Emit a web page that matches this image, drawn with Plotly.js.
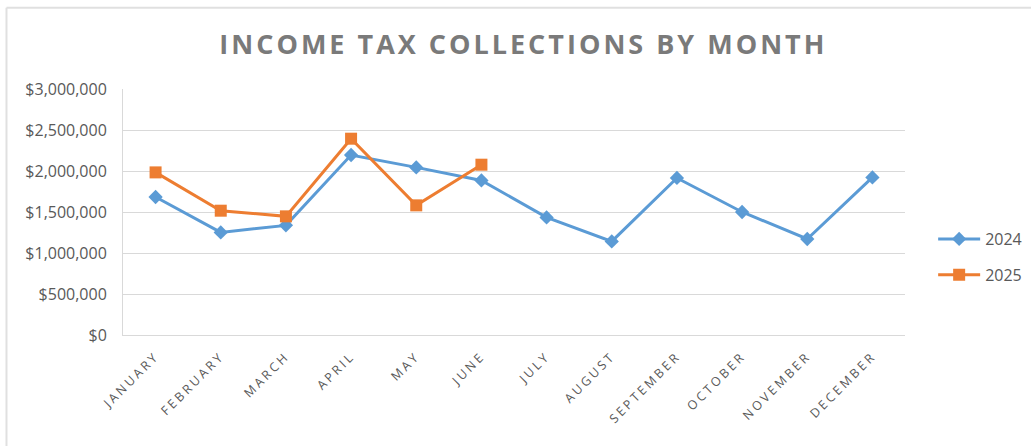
<!DOCTYPE html>
<html>
<head>
<meta charset="utf-8">
<script src="https://cdn.plot.ly/plotly-3.0.1.min.js"></script>
<style>
html,body{margin:0;padding:0;background:#fff;}
#chart{width:1031px;height:446px;}
#chart .gtitle{letter-spacing:3px;}
#chart .xtick text{letter-spacing:2.8px;}
</style>
</head>
<body>
<div id="chart"></div>
<script>
const months = ["JANUARY","FEBRUARY","MARCH","APRIL","MAY","JUNE","JULY","AUGUST","SEPTEMBER","OCTOBER","NOVEMBER","DECEMBER"];
const values2024 = [1683000,1251000,1337000,2195000,2044000,1885000,1434000,1141000,1915000,1500000,1171000,1922000];
const months2025 = ["JANUARY","FEBRUARY","MARCH","APRIL","MAY","JUNE"];
const values2025 = [1983000,1516000,1447000,2394000,1581000,2077000];
const yTicks = [0,500000,1000000,1500000,2000000,2500000,3000000];
const yTickLabels = ["$0","$500,000","$1,000,000","$1,500,000","$2,000,000","$2,500,000","$3,000,000"];

const font = "Open Sans, Liberation Sans, sans-serif";
const traces = [
  {x: months, y: values2024, name: "2024", type: "scatter", mode: "lines+markers", legendgroup: "a",
   line: {color: "#5b9bd5", width: 3}, marker: {symbol: "diamond", size: 11, color: "#5b9bd5"}},
  {x: months2025, y: values2025, name: "2025", type: "scatter", mode: "lines+markers", legendgroup: "b",
   line: {color: "#ed7d31", width: 3}, marker: {symbol: "square", size: 12, color: "#ed7d31"}}
];
const layout = {
  width: 1031, height: 446,
  margin: {l: 123, r: 126, t: 89, b: 111, autoexpand: false},
  paper_bgcolor: "#fff", plot_bgcolor: "#fff",
  title: {text: "<b>INCOME TAX COLLECTIONS BY MONTH</b>", x: 0.512, xref: "paper", y: 0.9, yref: "container",
          xanchor: "center", yanchor: "middle",
          font: {family: font, size: 27, color: "#7a7a7a"}},
  xaxis: {type: "category", categoryorder: "array", categoryarray: months, range: [-0.5, 11.5],
          tickangle: -45, tickfont: {family: font, size: 12.5, color: "#595959"},
          showgrid: false, showline: true, linecolor: "#d9d9d9", linewidth: 1, zeroline: false,
          ticks: "", ticklabelstandoff: 8, fixedrange: true},
  yaxis: {range: [0, 3000000], tickvals: yTicks, ticktext: yTickLabels,
          tickfont: {family: font, size: 16, color: "#595959"},
          showgrid: true, gridcolor: "#d9d9d9", gridwidth: 1, zeroline: false,
          showline: true, linecolor: "#d9d9d9", linewidth: 1, ticks: "", ticklabelstandoff: 12},
  legend: {x: 1.036, xref: "paper", xanchor: "left", y: 0.317, yanchor: "middle", bgcolor: "rgba(0,0,0,0)",
           font: {family: font, size: 16, color: "#595959"}, itemwidth: 42, tracegroupgap: 12},
  showlegend: true,
  shapes: [
    {type: "line", xref: "paper", yref: "paper", x0: -0.149, x1: 1.2, y0: 1.33, y1: 1.33, line: {color: "#e0e0e0", width: 2}},
    {type: "line", xref: "paper", yref: "paper", x0: -0.149, x1: -0.149, y0: 1.33, y1: -0.46, line: {color: "#e0e0e0", width: 2}}
  ]
};
Plotly.newPlot("chart", traces, layout, {displayModeBar: false, staticPlot: true});
</script>
</body>
</html>
